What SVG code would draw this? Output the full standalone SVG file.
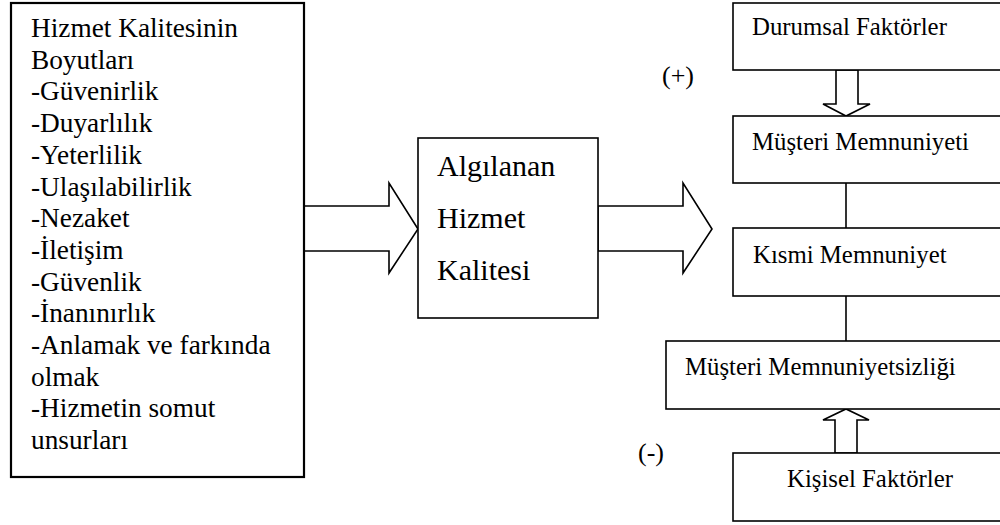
<svg xmlns="http://www.w3.org/2000/svg" width="1000" height="525" viewBox="0 0 1000 525" font-family="'Liberation Serif', 'Times New Roman', serif">
  <style>
    .box { fill: #ffffff; stroke: #000000; stroke-width: 1.6; }
    .arrow { fill: #ffffff; stroke: #000000; stroke-width: 1.6; stroke-linejoin: miter; }
    .link { stroke: #000000; stroke-width: 1.6; fill: none; }
    text { fill: #000000; }
    .lt { font-size: 27.3px; }
    .mt { font-size: 30px; }
    .rt { font-size: 24.8px; }
    .sign { font-size: 26px; }
  </style>
  <rect width="1000" height="525" fill="#ffffff"/>

  <!-- connectors: block arrows and plain links -->
  <g id="connectors">
    <polygon class="arrow" points="304,206 389,206 389,183 418,229 389,273 389,251 304,251"/>
    <polygon class="arrow" points="598,206 683,206 683,183 712,229 683,273 683,251 598,251"/>
    <polygon class="arrow" points="836,70 858,70 858,104 870,104 846,116 823,104 836,104"/>
    <polygon class="arrow" points="835,453 857,453 857,420 869,420 846,409 823,420 835,420"/>
    <line class="link" x1="846" y1="183" x2="846" y2="228"/>
    <line class="link" x1="846" y1="296" x2="846" y2="341"/>
  </g>

  <g id="boyutlar">
    <rect class="box" x="11" y="3" width="293" height="474" style="stroke-width:2.2"/>
    <text class="lt" x="31">
      <tspan x="31" y="37">Hizmet Kalitesinin</tspan>
      <tspan x="31" y="68.7">Boyutları</tspan>
      <tspan x="31" y="100.4">-Güvenirlik</tspan>
      <tspan x="31" y="132.1">-Duyarlılık</tspan>
      <tspan x="31" y="163.8">-Yeterlilik</tspan>
      <tspan x="31" y="195.5">-Ulaşılabilirlik</tspan>
      <tspan x="31" y="227.2">-Nezaket</tspan>
      <tspan x="31" y="258.9">-İletişim</tspan>
      <tspan x="31" y="290.6">-Güvenlik</tspan>
      <tspan x="31" y="322.3">-İnanınırlık</tspan>
      <tspan x="31" y="354">-Anlamak ve farkında</tspan>
      <tspan x="31" y="385.7">olmak</tspan>
      <tspan x="31" y="417.4">-Hizmetin somut</tspan>
      <tspan x="31" y="449.1">unsurları</tspan>
    </text>
  </g>

  <g id="algilanan">
    <rect class="box" x="418" y="138" width="180" height="180"/>
    <text class="mt" x="437" y="176">Algılanan</text>
    <text class="mt" x="437" y="228">Hizmet</text>
    <text class="mt" x="437" y="280">Kalitesi</text>
  </g>

  <g id="durumsal">
    <rect class="box" x="733" y="3" width="272" height="67"/>
    <text class="rt" x="752" y="35">Durumsal Faktörler</text>
  </g>

  <g id="memnuniyet">
    <rect class="box" x="733" y="116" width="272" height="67"/>
    <text class="rt" x="752" y="150">Müşteri Memnuniyeti</text>
  </g>

  <g id="kismi">
    <rect class="box" x="733" y="228" width="272" height="68"/>
    <text class="rt" x="753" y="263">Kısmi Memnuniyet</text>
  </g>

  <g id="memnuniyetsizlik">
    <rect class="box" x="666" y="341" width="339" height="68"/>
    <text class="rt" x="685" y="375">Müşteri Memnuniyetsizliği</text>
  </g>

  <g id="kisisel">
    <rect class="box" x="733" y="453" width="272" height="68"/>
    <text class="rt" x="787" y="487">Kişisel Faktörler</text>
  </g>

  <g id="isaretler">
    <text class="sign" x="662" y="84">(+)</text>
    <text class="sign" x="638" y="461">(-)</text>
  </g>
</svg>
